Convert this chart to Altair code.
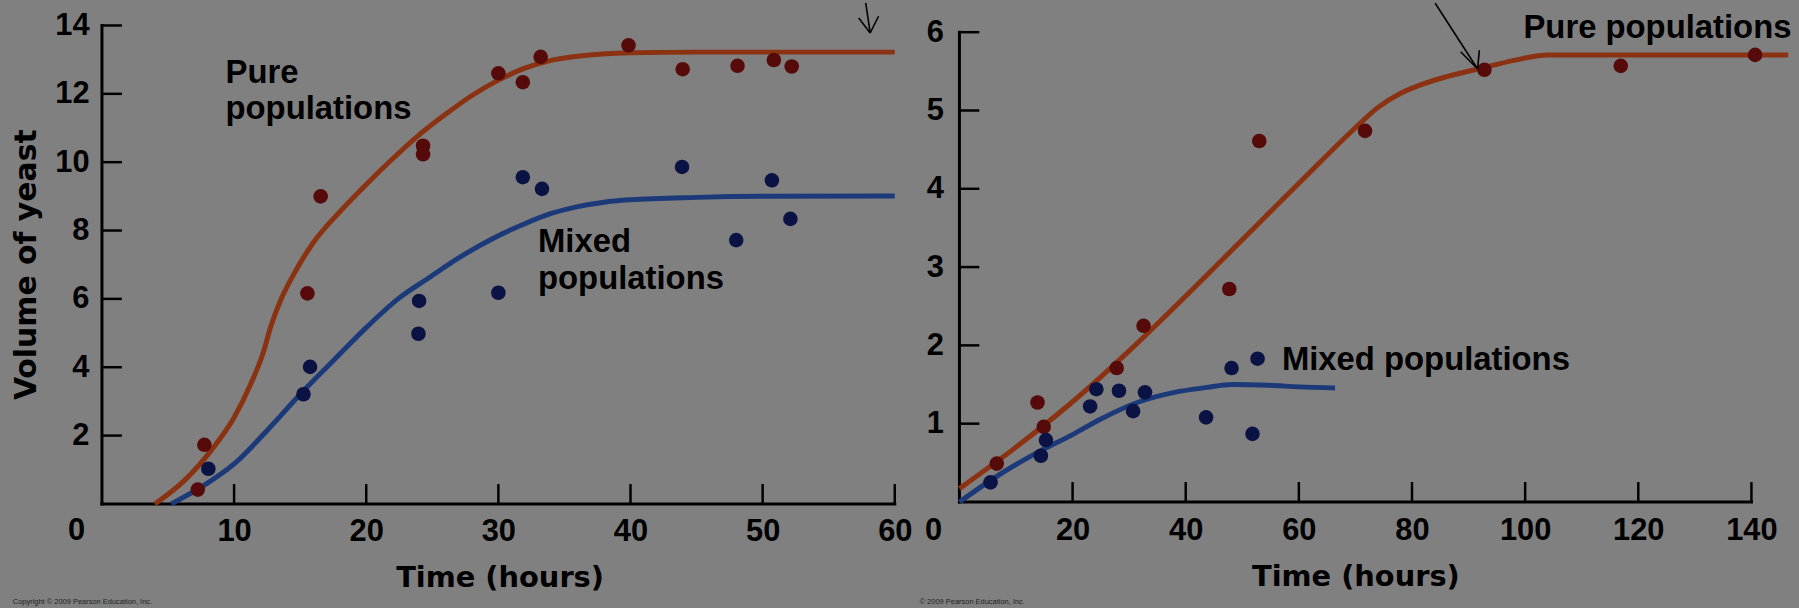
import altair as alt
import pandas as pd

# ---------------- data ----------------
# Left panel: Volume of yeast vs time (hours), 0-60 h
left_pure_h = [7.25, 7.75, 15.55, 16.55, 24.3, 24.3, 30.0, 31.85, 33.2, 39.85, 43.95, 48.1, 50.85, 52.2]
left_pure_v = [0.42, 1.73, 6.16, 9.0, 10.48, 10.23, 12.6, 12.34, 13.08, 13.42, 12.72, 12.82, 12.99, 12.8]
left_mixed_h = [8.05, 15.25, 15.75, 24.0, 23.95, 30.0, 31.85, 33.3, 43.9, 48.0, 50.7, 52.1]
left_mixed_v = [1.03, 3.21, 4.01, 5.94, 4.98, 6.18, 9.56, 9.22, 9.86, 7.72, 9.47, 8.34]

left_pure_curve_h = [4.0, 6.25, 8.25, 10, 11.25, 12.25, 12.75, 13.5, 14.5, 16, 18, 20, 22, 24, 26, 28, 30, 32, 34, 36, 40, 45, 50, 60]
left_pure_curve_v = [0, 0.69, 1.56, 2.53, 3.5, 4.48, 5.16, 5.94, 6.71, 7.65, 8.55, 9.35, 10.1, 10.8, 11.4, 11.95, 12.4, 12.75, 12.98, 13.1, 13.2, 13.22, 13.22, 13.22]
left_mixed_curve_h = [5.25, 7.5, 10, 12.5, 15.25, 17.5, 20, 22.5, 24.75, 27, 30, 32, 34, 36, 38, 40, 45, 50, 60]
left_mixed_curve_v = [0, 0.49, 1.17, 2.15, 3.31, 4.19, 5.16, 6.03, 6.62, 7.2, 7.85, 8.2, 8.5, 8.7, 8.83, 8.9, 8.97, 9.0, 9.01]

# Right panel: 0-140 h
right_pure_h = [6.6, 13.8, 14.9, 27.8, 32.55, 47.7, 53.0, 71.7, 92.8, 116.9, 140.65]
right_pure_v = [0.49, 1.27, 0.96, 1.71, 2.25, 2.72, 4.61, 4.74, 5.52, 5.57, 5.71]
right_mixed_h = [5.5, 14.4, 15.3, 23.1, 24.2, 28.2, 30.7, 32.8, 43.6, 48.1, 51.8, 52.7]
right_mixed_v = [0.25, 0.59, 0.79, 1.22, 1.44, 1.42, 1.16, 1.40, 1.08, 1.71, 0.87, 1.83]

right_pure_curve_h = [0, 10, 20, 30, 40, 50, 60, 70, 74, 78, 82, 86, 92.8, 98, 104, 146.5]
right_pure_curve_v = [0.17, 0.70, 1.28, 1.93, 2.63, 3.35, 4.07, 4.78, 5.04, 5.22, 5.34, 5.43, 5.55, 5.64, 5.71, 5.71]
right_mixed_curve_h = [0, 5, 8.2, 14, 20, 25, 31.8, 38, 43.5, 48.2, 54.7, 60, 66.4]
right_mixed_curve_v = [0, 0.25, 0.40, 0.64, 0.86, 1.06, 1.28, 1.40, 1.46, 1.50, 1.49, 1.47, 1.455]

# tick values
left_x_ticks = [10, 20, 30, 40, 50, 60]
left_y_ticks = [2, 4, 6, 8, 10, 12, 14]
right_x_ticks = [20, 40, 60, 80, 100, 120, 140]
right_y_ticks = [1, 2, 3, 4, 5, 6]

# annotation labels (text, hours, volume)
left_label_text = ["Pure", "populations", "Mixed", "populations"]
left_label_h = [9.35, 9.35, 33.0, 33.0]
left_label_v = [12.33, 11.25, 7.38, 6.30]
right_label_text = ["Pure populations", "Mixed populations"]
right_label_h = [99.7, 57.0]
right_label_v = [5.925, 1.69]

# hand-drawn arrows (segments in data units)
left_arrow_h = [57.8, 57.27, 58.77]
left_arrow_v = [14.66, 14.22, 14.27]
left_arrow_h2 = [58.14, 58.14, 58.14]
left_arrow_v2 = [13.78, 13.78, 13.78]
right_arrow_h = [84.1, 88.6, 91.9]
right_arrow_v = [6.37, 5.75, 5.77]
right_arrow_h2 = [91.6, 91.6, 91.6]
right_arrow_v2 = [5.53, 5.53, 5.53]

left_note = "Copyright \u00a9 2009 Pearson Education, Inc."
right_note = "\u00a9 2009 Pearson Education, Inc."
left_note_pos = (-6.75, -2.87)
right_note_pos = (-7.05, -1.28)

BG = "#808080"
RED_LINE = "#8a3212"
BLUE_LINE = "#1c3a7a"
RED_PT = "#560a0a"
BLUE_PT = "#0b1244"
INK = "#000000"


def make_panel(p):
    xs = alt.Scale(domain=p["xdom"], nice=False, zero=False)
    ys = alt.Scale(domain=p["ydom"], nice=False, zero=False)
    xaxis = alt.Axis(values=p["xticks"], labelPadding=p["xlabpad"], labelBaseline="middle",
                     labelFlush=False, labelOverlap=False, title="Time (hours)",
                     titleX=p["titleX"], titleY=p["titleY"], titleAlign="center",
                     titleBaseline="alphabetic", titleFontSize=29)
    yargs = dict(values=p["yticks"], labelPadding=p["ylabpad"], labelFlush=False, labelOverlap=False)
    if p["ytitle"]:
        yargs.update(title=p["ytitle"], titleX=-67, titleY=240, titleAngle=270, titleAlign="center",
                     titleBaseline="alphabetic", titleFontSize=30)
    else:
        yargs.update(title=None)
    yaxis = alt.Axis(**yargs)

    def X(f):
        return alt.X(f, type="quantitative", scale=xs, axis=xaxis)

    def Y(f):
        return alt.Y(f, type="quantitative", scale=ys, axis=yaxis)

    pure_curve = pd.DataFrame({"h": p["pc_h"], "v": p["pc_v"]})
    mixed_curve = pd.DataFrame({"h": p["mc_h"], "v": p["mc_v"]})
    pure_pts = pd.DataFrame({"h": p["pp_h"], "v": p["pp_v"]})
    mixed_pts = pd.DataFrame({"h": p["mp_h"], "v": p["mp_v"]})
    labels = pd.DataFrame({"t": p["lab_t"], "h": p["lab_h"], "v": p["lab_v"]})
    arrows = pd.DataFrame({"h": p["ar_h"], "v": p["ar_v"], "h2": p["ar_h2"], "v2": p["ar_v2"]})
    xt = pd.DataFrame({"t": p["xticks"], "z": [0] * len(p["xticks"])})
    yt = pd.DataFrame({"t": p["yticks"], "z": [0] * len(p["yticks"])})
    hline = pd.DataFrame({"a": [0], "b": [p["xaxis_end"]], "z": [0]})
    vline = pd.DataFrame({"a": [0], "b": [p["yaxis_end"]], "z": [0]})
    zero = pd.DataFrame({"h": [0], "v": [0], "t": ["0"]})
    note = pd.DataFrame({"h": [p["note_pos"][0]], "v": [p["note_pos"][1]], "t": [p["note"]]})

    layers = [
        alt.Chart(hline).mark_rule(color=INK, strokeWidth=3, strokeCap="square").encode(
            x=X("a"), x2=alt.X2("b"), y=Y("z")),
        alt.Chart(vline).mark_rule(color=INK, strokeWidth=3, strokeCap="square").encode(
            y=Y("a"), y2=alt.Y2("b"), x=X("z")),
        alt.Chart(xt).mark_rule(color=INK, strokeWidth=2.5, y2Offset=-20).encode(
            x=X("t"), y=Y("z"), y2=alt.Y2("z")),
        alt.Chart(yt).mark_rule(color=INK, strokeWidth=2.5, x2Offset=20).encode(
            y=Y("t"), x=X("z"), x2=alt.X2("z")),
        alt.Chart(pure_curve).mark_line(color=RED_LINE, strokeWidth=5, interpolate="monotone").encode(
            x=X("h"), y=Y("v")),
        alt.Chart(mixed_curve).mark_line(color=BLUE_LINE, strokeWidth=5, interpolate="monotone").encode(
            x=X("h"), y=Y("v")),
        alt.Chart(pure_pts).mark_circle(color=RED_PT, opacity=1, size=215).encode(x=X("h"), y=Y("v")),
        alt.Chart(mixed_pts).mark_circle(color=BLUE_PT, opacity=1, size=215).encode(x=X("h"), y=Y("v")),
        alt.Chart(labels).mark_text(align="left", baseline="alphabetic", font="Liberation Sans",
                                    fontWeight="bold", fontSize=33, color=INK).encode(
            x=X("h"), y=Y("v"), text="t:N"),
        alt.Chart(arrows).mark_rule(color=INK, strokeWidth=1.6).encode(
            x=X("h"), y=Y("v"), x2=alt.X2("h2"), y2=alt.Y2("v2")),
        alt.Chart(zero).mark_text(align="center", baseline="middle", font="Liberation Sans",
                                  fontWeight="bold", fontSize=31, color=INK,
                                  dx=p["zero_dx"], dy=p["zero_dy"]).encode(
            x=X("h"), y=Y("v"), text="t:N"),
        alt.Chart(note).mark_text(align="left", baseline="middle", font="Liberation Sans",
                                  fontSize=7.5, color="#222222").encode(
            x=X("h"), y=Y("v"), text="t:N"),
    ]
    return alt.layer(*layers).properties(width=p["width"], height=p["height"])


left = make_panel(dict(
    xdom=[0, 60], ydom=[0, 14], xticks=left_x_ticks, yticks=left_y_ticks,
    xlabpad=27.4, ylabpad=13, titleX=399.7, titleY=83, ytitle="Volume of yeast",
    pc_h=left_pure_curve_h, pc_v=left_pure_curve_v, mc_h=left_mixed_curve_h, mc_v=left_mixed_curve_v,
    pp_h=left_pure_h, pp_v=left_pure_v, mp_h=left_mixed_h, mp_v=left_mixed_v,
    lab_t=left_label_text, lab_h=left_label_h, lab_v=left_label_v,
    ar_h=left_arrow_h, ar_v=left_arrow_v, ar_h2=left_arrow_h2, ar_v2=left_arrow_v2,
    xaxis_end=60, yaxis_end=14, zero_dx=-25.4, zero_dy=27.4,
    note=left_note, note_pos=left_note_pos, width=797, height=481,
))

right = make_panel(dict(
    xdom=[0, 147.0], ydom=[0, 6.086], xticks=right_x_ticks, yticks=right_y_ticks,
    xlabpad=29, ylabpad=16, titleX=398, titleY=84, ytitle=None,
    pc_h=right_pure_curve_h, pc_v=right_pure_curve_v, mc_h=right_mixed_curve_h, mc_v=right_mixed_curve_v,
    pp_h=right_pure_h, pp_v=right_pure_v, mp_h=right_mixed_h, mp_v=right_mixed_v,
    lab_t=right_label_text, lab_h=right_label_h, lab_v=right_label_v,
    ar_h=right_arrow_h, ar_v=right_arrow_v, ar_h2=right_arrow_h2, ar_v2=right_arrow_v2,
    xaxis_end=140, yaxis_end=6, zero_dx=-26, zero_dy=29,
    note=right_note, note_pos=right_note_pos, width=836, height=479,
))

chart = alt.hconcat(left, right, spacing=6).properties(
    padding={"left": 11.5, "top": 0, "right": 0, "bottom": 0},
    background=BG,
).configure_view(strokeWidth=0).configure_axis(
    grid=False, ticks=False, domain=False, tickSize=0,
    labelFont="Liberation Sans", labelFontWeight="bold", labelFontSize=31, labelColor=INK,
    titleFont="DejaVu Sans", titleFontWeight="bold", titleColor=INK,
)

chart.save("out.html", embed_options={"renderer": "svg", "actions": False})
